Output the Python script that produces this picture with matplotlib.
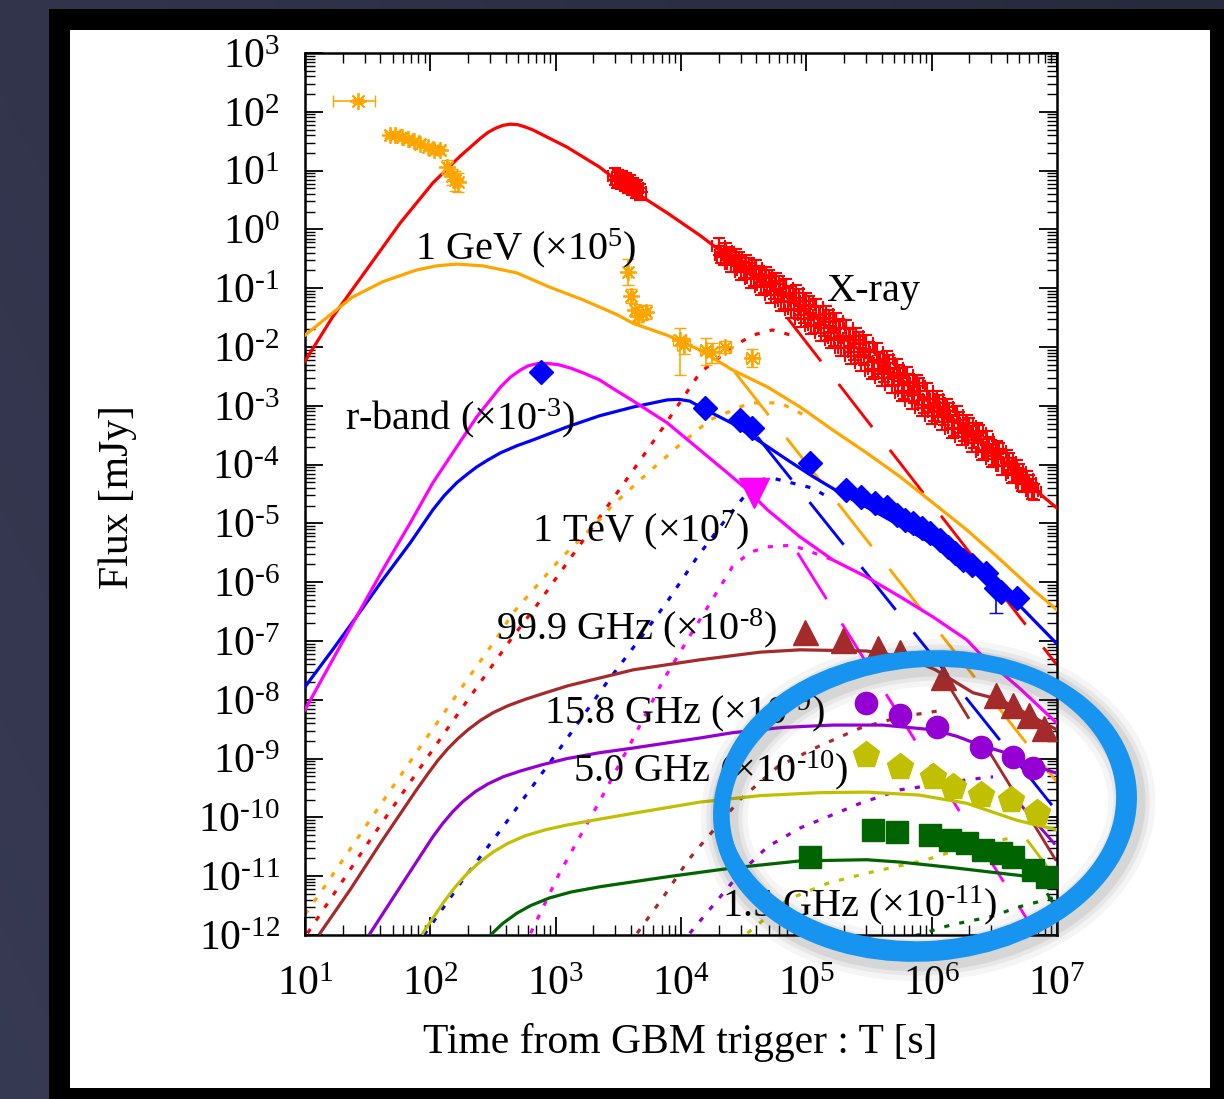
import numpy as np
import matplotlib
matplotlib.use("Agg")
import matplotlib.pyplot as plt
from matplotlib.patches import Rectangle, Ellipse
from matplotlib.transforms import IdentityTransform
from matplotlib.ticker import LogLocator, FuncFormatter, NullFormatter

plt.rcParams['font.family'] = ['Liberation Serif', 'DejaVu Serif']
plt.rcParams['mathtext.fontset'] = 'custom'
plt.rcParams['mathtext.rm'] = 'Liberation Serif'
plt.rcParams['mathtext.it'] = 'Liberation Serif:italic'
plt.rcParams['mathtext.bf'] = 'Liberation Serif:bold'

HY = '\u2010'  # short hyphen used in the exponents

# ---------------------------------------------------------------------------
# Light-curve data (log10 of time [s] and log10 of scaled flux [mJy])
# ---------------------------------------------------------------------------
# X-ray
xray_model_logt = [1.00, 1.22, 1.49, 1.76, 2.02, 2.24, 2.40, 2.46, 2.52, 2.58, 2.64, 2.70, 2.76, 2.82,
                   3.09, 3.35, 3.49, 3.62, 3.89, 4.15, 4.41, 4.69, 4.95, 5.21, 5.48, 5.75, 6.01, 6.28,
                   6.55, 6.78, 7.00]
xray_model_logf = [-2.24, -1.49, -0.69, 0.11, 0.79, 1.25, 1.55, 1.65, 1.72, 1.77, 1.79, 1.78, 1.74, 1.69,
                   1.40, 1.06, 0.83, 0.65, 0.28, -0.10, -0.52, -0.91, -1.32, -1.71, -2.14, -2.56, -2.99,
                   -3.41, -3.89, -4.35, -4.74]
xray_data_logt = [3.47, 3.49, 3.50, 3.52, 3.53, 3.55, 3.56, 3.58, 3.59, 3.61, 3.62, 3.64, 3.65, 3.67,
                  4.30, 4.34, 4.38, 4.42, 4.46, 4.50, 4.54, 4.58, 4.62, 4.66, 4.70, 4.74, 4.78,
                  4.82, 4.86, 4.90, 4.94, 4.98, 5.02, 5.06, 5.10, 5.14, 5.18, 5.22, 5.26, 5.30,
                  5.34, 5.38, 5.42, 5.46, 5.50, 5.54, 5.58, 5.62, 5.66, 5.70, 5.74, 5.78, 5.82,
                  5.86, 5.90, 5.94, 5.98, 6.02, 6.06, 6.10, 6.14, 6.18, 6.22, 6.26, 6.30, 6.34,
                  6.38, 6.42, 6.46, 6.50, 6.54, 6.58, 6.62, 6.66, 6.70, 6.74, 6.78, 6.82,
                  4.32, 4.36, 4.40, 4.44, 4.48, 4.52, 4.56, 4.60, 4.64, 4.68, 4.72, 4.76, 4.80,
                  4.84, 4.88, 4.92, 4.96, 5.00, 5.04, 5.08, 5.12, 5.16, 5.20, 5.24, 5.28, 5.32,
                  5.36, 5.40, 5.44, 5.48, 5.52, 5.56, 5.60, 5.64, 5.68, 5.72, 5.76, 5.80, 5.84,
                  5.88, 5.92, 5.96, 6.00, 6.04, 6.08, 6.12, 6.16, 6.20, 6.24, 6.28, 6.32, 6.36,
                  6.40, 6.44, 6.48, 6.52, 6.56, 6.60, 6.64, 6.68, 6.72, 6.76, 6.80]
xray_data_logf = [0.90, 0.84, 0.87, 0.82, 0.85, 0.79, 0.82, 0.76, 0.78, 0.72, 0.74, 0.68, 0.70, 0.64,
                  -0.29, -0.47, -0.44, -0.58, -0.53, -0.69, -0.62, -0.82, -0.76, -0.95, -0.83, -1.04, -0.93,
                  -1.22, -1.10, -1.36, -1.16, -1.45, -1.28, -1.63, -1.45, -1.67, -1.51, -1.85, -1.67, -2.01,
                  -1.84, -2.08, -1.88, -2.17, -2.05, -2.37, -2.24, -2.46, -2.28, -2.52, -2.44, -2.75, -2.60,
                  -2.82, -2.67, -2.99, -2.88, -3.11, -2.95, -3.19, -3.09, -3.38, -3.24, -3.46, -3.35, -3.58,
                  -3.47, -3.76, -3.67, -3.86, -3.77, -4.03, -3.95, -4.15, -4.13, -4.33, -4.31, -4.47,
                  -0.43, -0.37, -0.58, -0.47, -0.72, -0.57, -0.85, -0.66, -0.98, -0.78, -1.11, -0.88, -1.24,
                  -0.99, -1.37, -1.09, -1.52, -1.22, -1.64, -1.32, -1.76, -1.44, -1.88, -1.56, -2.02, -1.68,
                  -2.15, -1.81, -2.27, -1.94, -2.40, -2.08, -2.53, -2.21, -2.65, -2.35, -2.78, -2.48, -2.91,
                  -2.61, -3.04, -2.75, -3.17, -2.88, -3.28, -3.02, -3.40, -3.15, -3.53, -3.29, -3.64, -3.43,
                  -3.78, -3.57, -3.90, -3.74, -4.03, -3.89, -4.17, -4.07, -4.31, -4.25, -4.45]
xray_err_dex = 0.14
xray_terr_dex = 0.05
xray_dotted_logt = [1.02, 1.52, 2.13, 2.64, 2.84, 3.46, 3.65, 3.86, 4.15, 4.41, 4.57, 4.73, 4.93]
xray_dotted_logf = [-11.97, -10.38, -8.51, -6.98, -6.42, -4.57, -4.00, -3.36, -2.44, -2.00, -1.80, -1.71, -1.83]
xray_steep_logt = [4.85, 7.00]
xray_steep_logf = [-1.51, -7.41]

# 1 GeV (x1e5)
gev_model_logt = [1.00, 1.22, 1.38, 1.62, 1.89, 2.05, 2.21, 2.42, 2.69, 2.95, 3.22, 3.49, 3.62, 3.89,
                  4.15, 4.41, 4.69, 4.95, 5.21, 5.48, 5.75, 6.01, 6.28, 6.55, 6.81, 7.00]
gev_model_logf = [-1.80, -1.42, -1.15, -0.89, -0.69, -0.62, -0.59, -0.62, -0.74, -0.98, -1.20, -1.45, -1.60,
                  -1.80, -2.05, -2.39, -2.68, -3.02, -3.41, -3.80, -4.21, -4.65, -5.11, -5.62, -6.13, -6.47]
gev_data_logt = [1.42, 1.68, 1.72, 1.77, 1.82, 1.87, 1.92, 1.98, 2.03, 2.08, 2.13, 2.17, 2.20, 2.22,
                 3.58, 3.60, 3.63, 3.66, 3.69, 3.72, 3.99, 4.02, 4.20, 4.25, 4.35, 4.57]
gev_data_logf = [2.18, 1.61, 1.61, 1.57, 1.54, 1.50, 1.45, 1.40, 1.35, 1.35, 1.06, 0.91, 0.84, 0.81,
                 -0.72, -1.13, -1.37, -1.47, -1.42, -1.40, -1.88, -1.97, -2.05, -2.08, -2.00, -2.19]
gev_ferr_lo = [0.03, 0.05, 0.05, 0.05, 0.05, 0.05, 0.05, 0.05, 0.06, 0.06, 0.12, 0.15, 0.18, 0.18,
               0.22, 0.12, 0.10, 0.10, 0.12, 0.12, 0.60, 0.15, 0.25, 0.20, 0.10, 0.15]
gev_ferr_hi = [0.03, 0.05, 0.05, 0.05, 0.05, 0.05, 0.05, 0.05, 0.06, 0.06, 0.12, 0.12, 0.15, 0.15,
               0.22, 0.12, 0.10, 0.10, 0.12, 0.12, 0.20, 0.12, 0.20, 0.15, 0.10, 0.15]
gev_terr_lo = [0.20, 0.03, 0.03, 0.03, 0.03, 0.03, 0.03, 0.03, 0.03, 0.03, 0.02, 0.02, 0.02, 0.02,
               0.02, 0.02, 0.03, 0.03, 0.03, 0.03, 0.05, 0.05, 0.05, 0.05, 0.05, 0.05]
gev_terr_hi = [0.14, 0.03, 0.03, 0.03, 0.03, 0.03, 0.03, 0.03, 0.03, 0.03, 0.02, 0.02, 0.02, 0.02,
               0.02, 0.02, 0.03, 0.03, 0.03, 0.03, 0.05, 0.05, 0.05, 0.05, 0.05, 0.05]
gev_dotted_logt = [1.00, 1.12, 1.52, 1.92, 2.32, 2.53, 2.66, 3.03, 3.35, 3.45, 3.70, 3.97, 4.23, 4.55, 4.79, 5.03]
gev_dotted_logf = [-11.65, -11.29, -10.04, -8.80, -7.58, -6.95, -6.52, -5.62, -4.94, -4.70, -4.21, -3.70,
                   -3.24, -2.95, -2.95, -3.21]
gev_steep_logt = [4.43, 7.00]
gev_steep_logf = [-2.43, -9.40]

# r-band (x1e-3)
rband_model_logt = [1.00, 1.22, 1.41, 1.62, 1.84, 2.02, 2.11, 2.21, 2.29, 2.37, 2.46, 2.56, 2.69, 2.82,
                    3.09, 3.35, 3.62, 3.89, 3.98, 4.07, 4.18, 4.41, 4.61, 4.87, 5.05, 5.27, 5.59, 6.01,
                    6.35, 6.68, 7.00]
rband_model_logf = [-7.78, -7.15, -6.59, -5.96, -5.33, -4.77, -4.53, -4.31, -4.17, -4.04, -3.92, -3.80,
                    -3.68, -3.58, -3.36, -3.17, -3.02, -2.90, -2.89, -2.92, -3.05, -3.30, -3.58, -3.95,
                    -4.20, -4.48, -4.85, -5.35, -5.80, -6.35, -7.05]
rband_data_logt = [2.88, 4.19, 4.47, 4.57, 5.03, 5.32, 5.44, 5.55, 5.64, 5.72, 5.79, 5.85, 5.92,
                   5.99, 6.07, 6.13, 6.19, 6.25, 6.32, 6.43, 6.51, 6.55, 6.68]
rband_data_logf = [-2.43, -3.04, -3.24, -3.38, -3.97, -4.43, -4.55, -4.65, -4.72, -4.86, -4.94, -4.99, -5.08,
                   -5.16, -5.28, -5.40, -5.50, -5.62, -5.71, -5.84, -6.10, -6.17, -6.27]
rband_dotted_logt = [1.95, 2.26, 2.58, 3.01, 3.41, 3.73, 3.90, 4.13, 4.34, 4.61, 4.73, 5.05, 5.21]
rband_dotted_logf = [-12.00, -11.06, -10.16, -8.90, -7.70, -6.80, -6.30, -5.57, -4.98, -4.26, -4.23, -4.40, -4.60]
rband_steep_logt = [4.61, 7.00]
rband_steep_logf = [-3.53, -9.90]

# 1 TeV (x1e7)
tev_model_logt = [1.00, 1.22, 1.41, 1.62, 1.84, 2.02, 2.21, 2.37, 2.56, 2.64, 2.72, 2.78, 2.86, 2.94,
                  3.02, 3.12, 3.22, 3.35, 3.49, 3.62, 3.89, 4.15, 4.37, 4.53, 4.69, 4.95, 5.21, 5.48,
                  5.75, 6.01, 6.28, 6.41, 6.70, 7.00]
tev_model_logf = [-8.17, -7.32, -6.59, -5.79, -4.99, -4.31, -3.70, -3.19, -2.68, -2.51, -2.39, -2.32,
                  -2.28, -2.28, -2.30, -2.36, -2.44, -2.56, -2.75, -2.92, -3.29, -3.75, -4.14, -4.43,
                  -4.77, -5.23, -5.62, -5.91, -6.25, -6.59, -6.98, -7.27, -7.80, -8.40]
tev_data_logt = [4.58]
tev_data_logf = [-4.48]
tev_dotted_logt = [2.80, 3.03, 3.37, 3.62, 3.86, 4.10, 4.15, 4.41, 4.55, 4.69, 4.89, 5.21]
tev_dotted_logf = [-11.97, -10.95, -9.65, -8.65, -7.66, -6.81, -6.64, -5.74, -5.49, -5.40, -5.37, -5.62]
tev_steep_logt = [4.93, 6.79]
tev_steep_logf = [-5.50, -11.83]

# 99.9 GHz (x1e-8)
g999_model_logt = [1.12, 1.36, 1.62, 1.89, 1.98, 2.06, 2.14, 2.22, 2.30, 2.40, 2.50, 2.62, 2.76, 2.92,
                   3.10, 3.35, 3.62, 4.15, 4.63, 4.95, 5.48, 5.80, 6.03, 6.33, 6.55, 7.00]
g999_model_logf = [-11.97, -11.23, -10.38, -9.53, -9.26, -9.03, -8.83, -8.66, -8.51, -8.35, -8.22, -8.10,
                   -7.99, -7.88, -7.76, -7.63, -7.49, -7.32, -7.19, -7.15, -7.17, -7.28, -7.49, -7.88,
                   -8.00, -8.51]
g999_data_logt = [4.99, 5.29, 5.57, 5.75, 6.09, 6.51, 6.65, 6.78, 6.90]
g999_data_logf = [-6.85, -6.98, -7.12, -7.19, -7.61, -7.92, -8.09, -8.26, -8.48]
g999_dotted_logt = [3.65, 3.86, 4.06, 4.17, 4.47, 4.77, 5.09, 5.43, 5.75, 6.11]
g999_dotted_logf = [-11.97, -11.35, -10.72, -10.44, -9.70, -9.14, -8.80, -8.48, -8.29, -8.17]
g999_steep_logt = [6.07, 7.00]
g999_steep_logf = [-7.53, -10.76]

# 15.8 GHz (x1e-9)
g158_model_logt = [1.52, 1.76, 2.02, 2.10, 2.18, 2.26, 2.36, 2.46, 2.58, 2.72, 2.90, 3.09, 3.35, 3.62,
                   4.15, 4.41, 4.81, 5.21, 5.61, 6.01, 6.20, 6.36, 6.65, 6.79, 7.00]
g158_model_logf = [-11.97, -11.18, -10.33, -10.10, -9.90, -9.73, -9.56, -9.43, -9.31, -9.21, -9.10, -9.00,
                   -8.90, -8.82, -8.65, -8.56, -8.47, -8.43, -8.43, -8.51, -8.62, -8.75, -8.94, -9.10, -9.25]
g158_data_logt = [5.48, 5.75, 6.04, 6.39, 6.65, 6.81]
g158_data_logf = [-8.05, -8.26, -8.46, -8.80, -8.97, -9.16]
g158_dotted_logt = [4.07, 4.18, 4.47, 4.69, 4.95, 5.17, 5.43, 5.75, 6.01, 6.28, 6.49]
g158_dotted_logf = [-11.97, -11.69, -10.95, -10.50, -10.18, -9.99, -9.76, -9.53, -9.45, -9.36, -9.31]
g158_steep_logt = [6.70, 7.00]
g158_steep_logf = [-9.76, -10.50]

# 5.0 GHz (x1e-10)
g50_model_logt = [1.94, 2.10, 2.20, 2.30, 2.40, 2.50, 2.62, 2.76, 2.92, 3.09, 3.35, 3.62, 4.15, 4.63,
                  5.10, 5.48, 5.90, 6.28, 6.68, 7.00]
g50_model_logf = [-11.97, -11.46, -11.18, -10.94, -10.75, -10.59, -10.44, -10.31, -10.21, -10.13, -10.03,
                  -9.93, -9.74, -9.63, -9.58, -9.57, -9.62, -9.76, -10.05, -10.21]
g50_data_logt = [5.48, 5.75, 6.01, 6.17, 6.39, 6.63, 6.84]
g50_data_logf = [-8.94, -9.14, -9.31, -9.48, -9.62, -9.70, -9.93]
g50_dotted_logt = [4.53, 4.85, 5.17, 5.48, 5.96, 6.28, 6.68]
g50_dotted_logf = [-11.97, -11.40, -11.12, -10.95, -10.72, -10.50, -10.33]
g50_steep_logt = [6.76, 7.00]
g50_steep_logf = [-10.38, -11.06]

# 1.5 GHz (x1e-11)
g15_model_logt = [2.48, 2.58, 2.69, 2.80, 2.95, 3.12, 3.35, 3.89, 4.41, 4.95, 5.48, 5.75, 6.15, 6.55, 7.00]
g15_model_logf = [-12.00, -11.80, -11.63, -11.50, -11.37, -11.27, -11.18, -11.01, -10.86, -10.74, -10.72,
                  -10.76, -10.85, -10.95, -11.06]
g15_data_logt = [5.03, 5.53, 5.72, 5.99, 6.15, 6.28, 6.41, 6.55, 6.65, 6.81, 6.92]
g15_data_logf = [-10.67, -10.21, -10.25, -10.30, -10.38, -10.43, -10.55, -10.61, -10.67, -10.89, -11.01]
g15_dotted_logt = [5.75, 6.15, 6.47, 6.70, 7.00]
g15_dotted_logf = [-12.09, -11.83, -11.69, -11.52, -11.35]
g15_steep_logt = [6.92, 7.00]
g15_steep_logf = [-11.29, -11.57]

# Band labels: text and anchor (log t, log F)
band_labels = [r'1 GeV (×10$^{5}$)', 'X-ray', r'r-band (×10$^{%s3}$)' % HY, r'1 TeV (×10$^{7}$)',
               r'99.9 GHz (×10$^{%s8}$)' % HY, r'15.8 GHz (×10$^{%s9}$)' % HY,
               r'5.0 GHz (×10$^{%s10}$)' % HY, r'1.5 GHz (×10$^{%s11}$)' % HY]
band_label_logt = [1.88, 5.16, 1.32, 2.81, 2.52, 2.91, 3.14, 4.33]
band_label_logf = [-0.32, -1.06, -3.21, -5.11, -6.78, -8.21, -9.19, -11.49]


def P(a):
    return 10.0 ** np.asarray(a, dtype=float)


def exp_label(v, pos):
    e = int(round(np.log10(v)))
    s = (HY + str(-e)) if e < 0 else str(e)
    return r'$\mathregular{10^{%s}}$' % s


W, H = 1224, 1099
fig = plt.figure(figsize=(W / 100, H / 100), dpi=100)
fig.patch.set_facecolor('#2e3047')

# slide background with a soft gradient
bg = fig.add_axes([0, 0, 1, 1], zorder=-20)
gx = np.linspace(0, 1, 300)
gy = np.linspace(0, 1, 300)
GX, GY = np.meshgrid(gx, gy)
shade = 0.55 * (1 - GX) + 0.25 * GY
c0 = np.array([0x27, 0x29, 0x3d]) / 255
c1 = np.array([0x3b, 0x3e, 0x58]) / 255
img = c0[None, None, :] + (c1 - c0)[None, None, :] * np.clip(shade, 0, 1)[:, :, None]
bg.imshow(img, extent=[0, 1, 0, 1], aspect='auto', origin='upper')
bg.set_axis_off()

# black frame and white page
fig.add_artist(Rectangle((49 / W, 0), 1, (H - 9) / H, transform=fig.transFigure,
                         facecolor='black', edgecolor='none', zorder=-10))
fig.add_artist(Rectangle((70 / W, (H - 1088) / H), (1210 - 70) / W, (1088 - 30) / H,
                         transform=fig.transFigure, facecolor='white', edgecolor='none', zorder=-9))

ax = fig.add_axes([305 / W, (H - 935) / H, 752 / W, 882 / H])
ax.set_facecolor('none')
ax.set_xscale('log')
ax.set_yscale('log')
ax.set_xlim(1e1, 1e7)
ax.set_ylim(1e-12, 1e3)

LW = 2.3
DOT = (0, (1.6, 3.2))
LONG = (0, (19, 10))

series = [
    ('#ff0000', xray_model_logt, xray_model_logf, xray_dotted_logt, xray_dotted_logf, xray_steep_logt, xray_steep_logf),
    ('#ffa500', gev_model_logt, gev_model_logf, gev_dotted_logt, gev_dotted_logf, gev_steep_logt, gev_steep_logf),
    ('#0000ff', rband_model_logt, rband_model_logf, rband_dotted_logt, rband_dotted_logf, rband_steep_logt, rband_steep_logf),
    ('#ff00ff', tev_model_logt, tev_model_logf, tev_dotted_logt, tev_dotted_logf, tev_steep_logt, tev_steep_logf),
    ('#a52a2a', g999_model_logt, g999_model_logf, g999_dotted_logt, g999_dotted_logf, g999_steep_logt, g999_steep_logf),
    ('#9400d3', g158_model_logt, g158_model_logf, g158_dotted_logt, g158_dotted_logf, g158_steep_logt, g158_steep_logf),
    ('#c0c000', g50_model_logt, g50_model_logf, g50_dotted_logt, g50_dotted_logf, g50_steep_logt, g50_steep_logf),
    ('#006400', g15_model_logt, g15_model_logf, g15_dotted_logt, g15_dotted_logf, g15_steep_logt, g15_steep_logf),
]
for col, mt, mf, dt, df, st, sf in series:
    ax.plot(P(dt), P(df), color=col, lw=LW, ls=DOT, zorder=2, solid_joinstyle='round')
    ax.plot(P(st), P(sf), color=col, lw=LW * 0.9, ls=LONG, zorder=2)
    ax.plot(P(mt), P(mf), color=col, lw=LW, zorder=3, solid_joinstyle='round')

# X-ray data
xt = P(xray_data_logt)
xf = P(xray_data_logf)
ax.errorbar(xt, xf,
            yerr=[xf * (1 - 10 ** -xray_err_dex), xf * (10 ** xray_err_dex - 1)],
            xerr=[xt * (1 - 10 ** -xray_terr_dex), xt * (10 ** xray_terr_dex - 1)],
            fmt='+', color='#ff0000', ms=11, mew=1.5, elinewidth=1.5, capsize=4, zorder=4)

# 1 GeV data
gt = P(gev_data_logt)
gf = P(gev_data_logf)
ax.errorbar(gt, gf,
            yerr=[gf * (1 - P(-np.asarray(gev_ferr_lo))), gf * (P(gev_ferr_hi) - 1)],
            xerr=[gt * (1 - P(-np.asarray(gev_terr_lo))), gt * (P(gev_terr_hi) - 1)],
            fmt='none', ecolor='#ffa500', elinewidth=1.2, capsize=4, zorder=4)
ax.plot(gt, gf, ls='none', marker=(8, 2, 0), ms=12, mew=1.3, color='#ffa500', zorder=4)

# optical / TeV / radio data
ax.plot(P(rband_data_logt), P(rband_data_logf), ls='none', marker='D', ms=12, color='#0000ff', zorder=5)
ax.errorbar(P([6.51]), P([-6.10]), yerr=[[P(-6.10) - P(-6.52)], [0]], fmt='none',
            ecolor='#0000ff', elinewidth=1.2, capsize=5, zorder=5)
ax.plot(P(tev_data_logt), P(tev_data_logf), ls='none', marker='v', ms=21, color='#ff00ff', zorder=5)
ax.plot(P(g999_data_logt), P(g999_data_logf), ls='none', marker='^', ms=18, color='#a52a2a', zorder=5)
ax.plot(P(g158_data_logt), P(g158_data_logf), ls='none', marker='o', ms=16, color='#9400d3', zorder=5)
ax.plot(P(g50_data_logt), P(g50_data_logf), ls='none', marker='p', ms=20, color='#c0c000', zorder=5)
ax.plot(P(g15_data_logt), P(g15_data_logf), ls='none', marker='s', ms=16, color='#006400', zorder=5)

for txt, lt, lf in zip(band_labels, band_label_logt, band_label_logf):
    ax.text(10 ** lt, 10 ** lf, txt, fontsize=29, ha='left', va='center', color='black', zorder=6)

# axes styling
for sp in ax.spines.values():
    sp.set_linewidth(1.8)
ax.xaxis.set_major_locator(LogLocator(base=10, numticks=20))
ax.yaxis.set_major_locator(LogLocator(base=10, numticks=30))
ax.xaxis.set_minor_locator(LogLocator(base=10, subs=np.arange(2, 10), numticks=100))
ax.yaxis.set_minor_locator(LogLocator(base=10, subs=np.arange(2, 10), numticks=200))
fmt = FuncFormatter(exp_label)
ax.xaxis.set_major_formatter(fmt)
ax.yaxis.set_major_formatter(fmt)
ax.xaxis.set_minor_formatter(NullFormatter())
ax.yaxis.set_minor_formatter(NullFormatter())
ax.tick_params(which='both', direction='in', top=True, right=True, labelsize=30)
ax.tick_params(which='major', length=13, width=1.3)
ax.tick_params(which='minor', length=7, width=1.0)
ax.tick_params(axis='x', pad=22)
ax.tick_params(axis='y', pad=18)

fig.text(680 / W, 1 - 1043 / H, 'Time from GBM trigger : T [s]', fontsize=30, ha='center', va='center')
fig.text(118 / W, 1 - 497 / H, 'Flux [mJy]', fontsize=30, rotation=90, ha='center', va='center')

# hand-drawn highlight ring with a soft drop shadow
ring_c = (925, H - 806)
for dw, a in [(34, 0.05), (26, 0.08), (20, 0.10)]:
    fig.add_artist(Ellipse((ring_c[0] + 3, ring_c[1] - 4), 408, 294, angle=5,
                           transform=IdentityTransform(), fill=False,
                           edgecolor='#444444', lw=dw, alpha=a, zorder=20))
fig.add_artist(Ellipse(ring_c, 408, 294, angle=5, transform=IdentityTransform(), fill=False,
                       edgecolor='#1793f0', lw=12, zorder=21))
fig.add_artist(Ellipse((ring_c[0] - 4, ring_c[1] + 5), 400, 290, angle=2, transform=IdentityTransform(),
                       fill=False, edgecolor='#1793f0', lw=7, zorder=21))

fig.savefig('out.png', dpi=100)
